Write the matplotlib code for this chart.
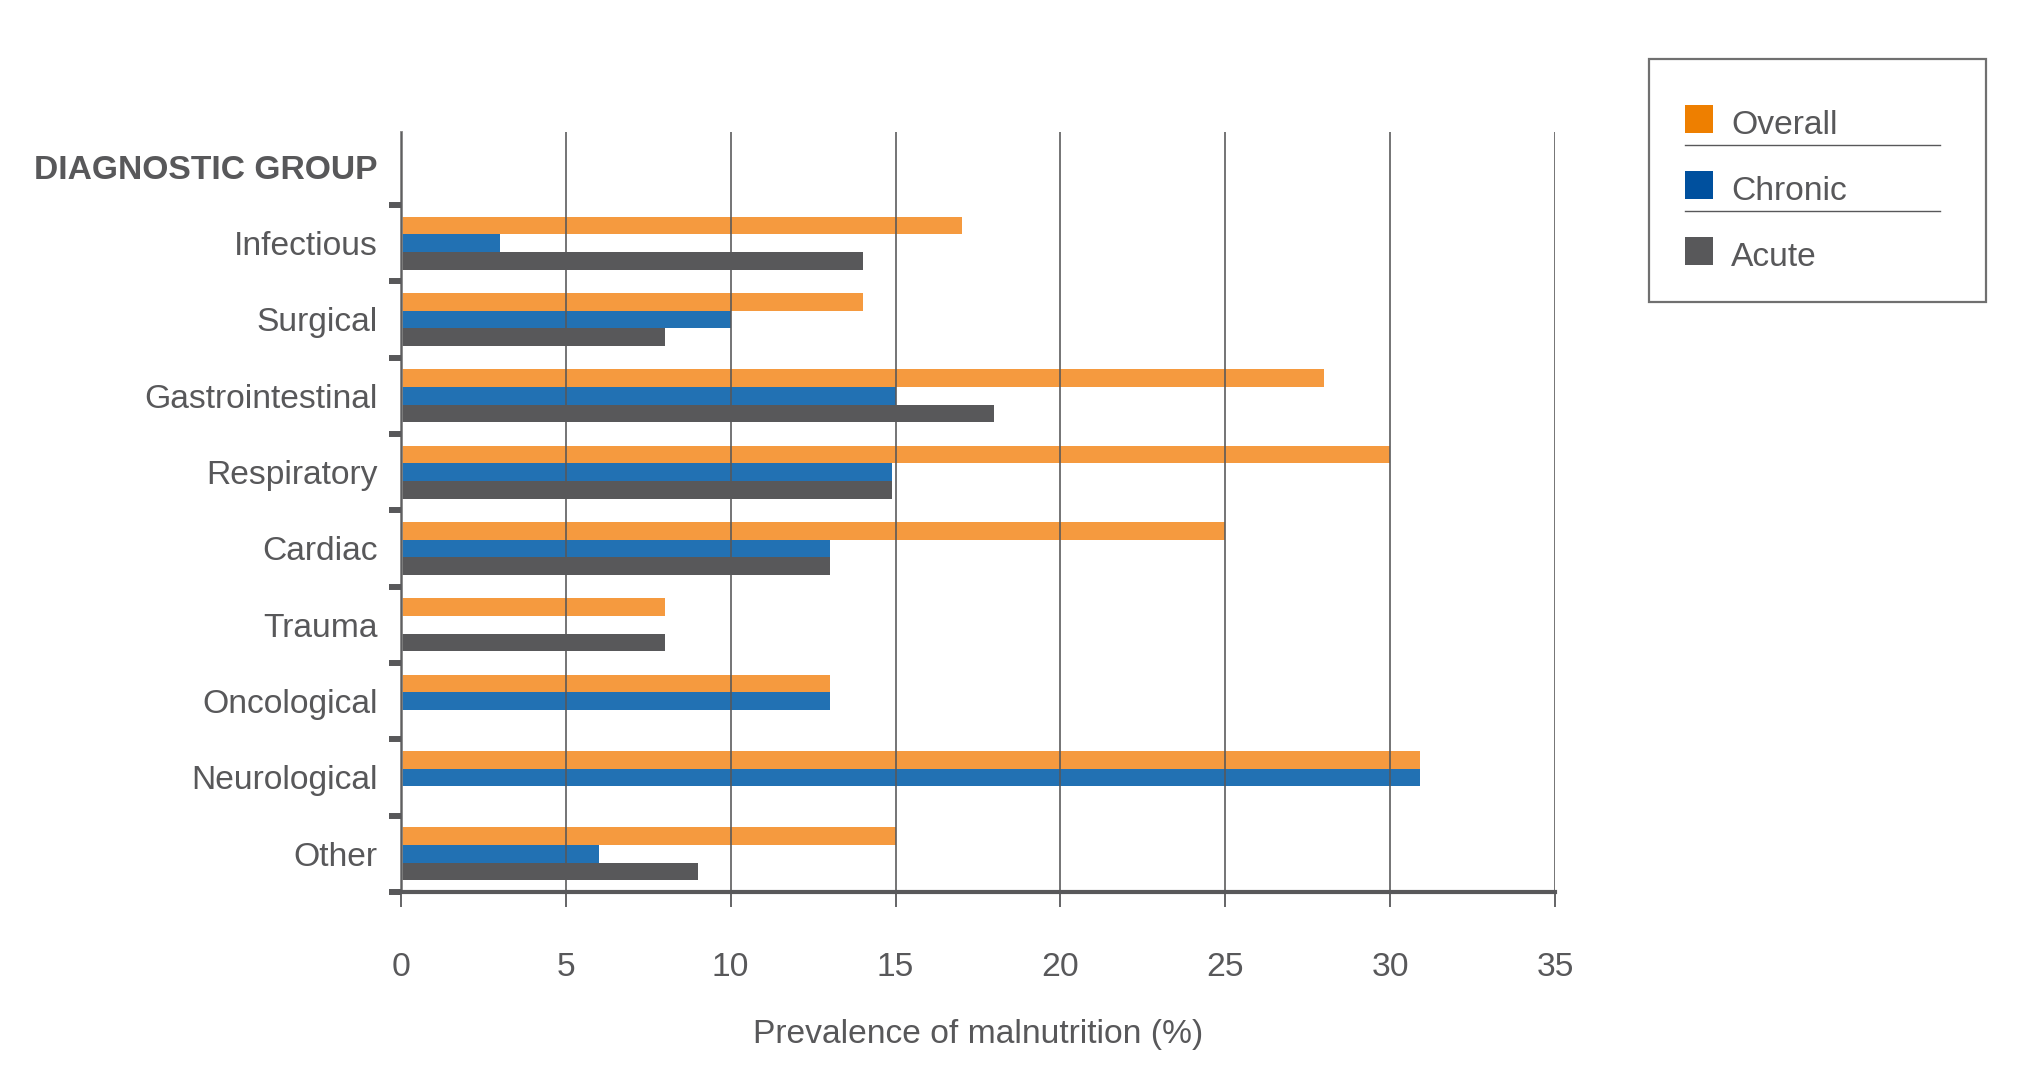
import matplotlib
matplotlib.use("Agg")
import matplotlib.pyplot as plt
import matplotlib.transforms as mtransforms
from matplotlib.patches import Rectangle
from matplotlib.lines import Line2D
import numpy as np

plt.rcParams['font.family'] = ['Liberation Sans', 'DejaVu Sans']

header = "DIAGNOSTIC GROUP"
categories = ["Infectious", "Surgical", "Gastrointestinal", "Respiratory", "Cardiac",
              "Trauma", "Oncological", "Neurological", "Other"]
overall = [17, 14, 28, 30, 25, 8, 13, 30.9, 15]
chronic = [3, 10, 15, 14.9, 13, 0, 13, 30.9, 6]
acute = [14, 8, 18, 14.9, 13, 8, 0, 0, 9]
series_names = ["Overall", "Chronic", "Acute"]
x_ticks = [0, 5, 10, 15, 20, 25, 30, 35]
x_label = "Prevalence of malnutrition (%)"

bar_colors = ["#F59A3F", "#2271B3", "#58585A"]
legend_colors = ["#EE7F00", "#00509E", "#58585A"]
text_color = "#58585A"
fs = 24.2

W, H = 2018, 1082
fig = plt.figure(figsize=(W / 100, H / 100), dpi=100)
ax = fig.add_axes([401 / W, 1 - 892 / H, (1555 - 401) / W, (892 - 132) / H])

y = np.arange(len(categories))
bh = 0.232
for vals, off, col in zip([overall, chronic, acute], [-bh, 0, bh], bar_colors):
    ax.barh(y + off, vals, height=bh, color=col, zorder=1)

ax.set_xlim(0, 35)
ax.set_ylim(8.5, -1.456)

ax.set_yticks([-1] + list(y))
ax.set_yticklabels([header] + categories)
down = mtransforms.ScaledTranslation(0, -3 / 100, fig.dpi_scale_trans)
for i, lab in enumerate(ax.get_yticklabels()):
    lab.set_color(text_color)
    lab.set_fontsize(fs)
    lab.set_transform(lab.get_transform() + down)
    if i == 0:
        lab.set_fontweight("bold")
ax.tick_params(axis="y", which="major", length=0, pad=17)
ax.set_yticks(np.arange(-0.5, 9, 1.0), minor=True)
ax.tick_params(axis="y", which="minor", length=8.5, width=4.3, color=text_color, direction="out")

ax.set_xticks(x_ticks)
ax.set_xticklabels([str(v) for v in x_ticks])
ax.tick_params(axis="x", which="major", length=11, width=1.3, color=text_color,
               labelsize=fs, labelcolor=text_color, pad=32)
ax.set_xlabel(x_label, fontsize=fs, color=text_color, labelpad=26)

ax.set_axisbelow(False)
ax.grid(axis="x", color=text_color, linewidth=1.3, alpha=0.9)
ax.grid(axis="y", visible=False)

for s in ["top", "right"]:
    ax.spines[s].set_visible(False)
ax.spines["left"].set_color("#808080")
ax.spines["left"].set_linewidth(2)
ax.spines["bottom"].set_color(text_color)
ax.spines["bottom"].set_linewidth(3)
ax.spines["bottom"].set_zorder(3)

# legend (manual)
def fx(px):
    return px / W

def fy(py):
    return 1 - py / H

fig.add_artist(Rectangle((fx(1649), fy(302)), fx(1986) - fx(1649), fy(59) - fy(302),
                         transform=fig.transFigure, fill=False, edgecolor="#707070", linewidth=1.6))
row_tops = [105, 171, 237]
for name, col, top in zip(series_names, legend_colors, row_tops):
    fig.add_artist(Rectangle((fx(1685), fy(top + 28)), fx(1713) - fx(1685), fy(top) - fy(top + 28),
                             transform=fig.transFigure, facecolor=col, edgecolor="none"))
    fig.text(fx(1731), fy(top + 20), name, fontsize=fs, color=text_color, va="center", ha="left")
for ly in [145, 211]:
    fig.add_artist(Line2D([fx(1685), fx(1940)], [fy(ly), fy(ly)], transform=fig.transFigure,
                          color=text_color, linewidth=1))

fig.savefig("out.png", dpi=100, facecolor="white")
